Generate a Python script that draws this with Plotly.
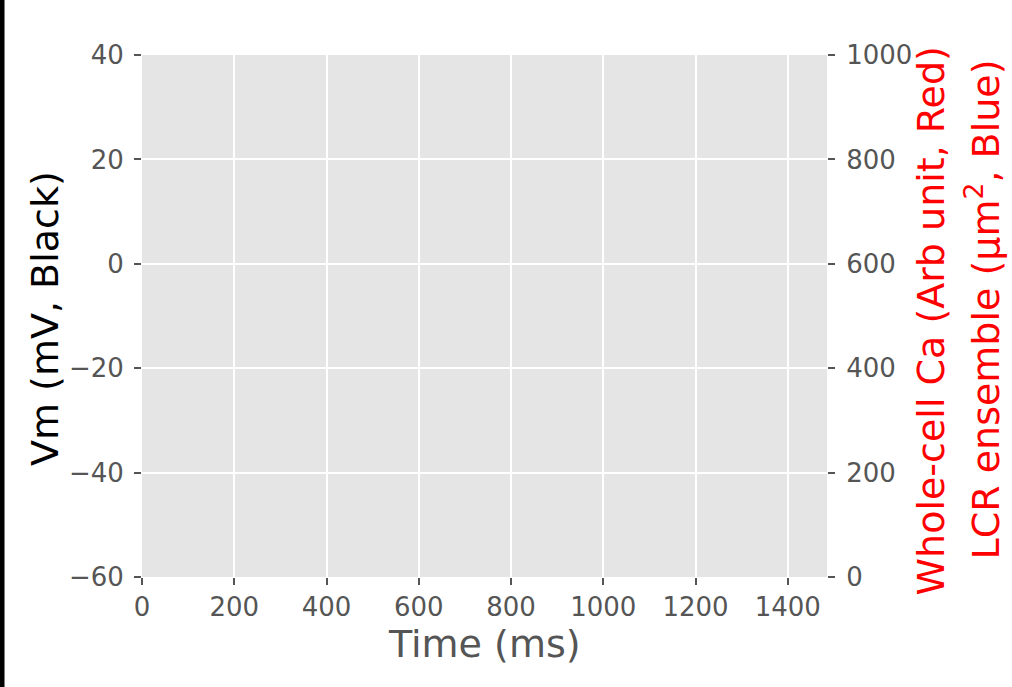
import plotly.graph_objects as go

# Axis limits and ticks
time_range = [0, 1485]
time_ticks = [0, 200, 400, 600, 800, 1000, 1200, 1400]
vm_range = [-60, 40]
vm_ticks = [-60, -40, -20, 0, 20, 40]
ca_range = [0, 1000]
ca_ticks = [0, 200, 400, 600, 800, 1000]

# Recorded traces (none plotted yet)
time_ms = []
vm_mv = []
whole_cell_ca = []
lcr_ensemble = []

W, H = 1012, 687
L, R, T, B = 142, 185, 55, 110
pw, ph = W - L - R, H - T - B


def px(x):
    return (x - L) / pw


def py(y):
    return (H - B - y) / ph


FONT = "DejaVu Sans"
GREY = "#555555"

fig = go.Figure()
fig.add_trace(go.Scatter(x=time_ms, y=vm_mv, mode="lines",
                         line=dict(color="black"), yaxis="y", showlegend=False))
fig.add_trace(go.Scatter(x=time_ms, y=whole_cell_ca, mode="lines",
                         line=dict(color="red"), yaxis="y2", showlegend=False))
fig.add_trace(go.Scatter(x=time_ms, y=lcr_ensemble, mode="lines",
                         line=dict(color="blue"), yaxis="y2", showlegend=False))

tick_common = dict(ticks="outside", ticklen=7, tickwidth=1.5, tickcolor=GREY,
                   tickfont=dict(family=FONT, size=26, color=GREY),
                   zeroline=False, showline=False)

fig.update_layout(
    width=W, height=H,
    margin=dict(l=L, r=R, t=T, b=B, pad=0),
    paper_bgcolor="white",
    plot_bgcolor="#E5E5E5",
    font=dict(family=FONT),
    xaxis=dict(range=time_range, tickvals=time_ticks, ticklabelstandoff=0,
               showgrid=True, gridcolor="white", gridwidth=1.5, **tick_common),
    yaxis=dict(range=vm_range, tickvals=vm_ticks, ticklabelstandoff=5,
               showgrid=True, gridcolor="white", gridwidth=1.5, **tick_common),
    yaxis2=dict(range=ca_range, tickvals=ca_ticks, overlaying="y", side="right",
                ticklabelstandoff=6, showgrid=False, **tick_common),
    shapes=[dict(type="rect", xref="paper", yref="paper",
                 x0=px(0), x1=px(4.5), y0=py(H), y1=py(0),
                 fillcolor="black", line=dict(width=0), layer="above")],
    annotations=[
        dict(text="Time (ms)", xref="paper", yref="paper", x=0.5, y=py(644),
             xanchor="center", yanchor="middle",
             showarrow=False, font=dict(family=FONT, size=38, color=GREY)),
        dict(text="Vm (mV, Black)", xref="paper", yref="paper", x=px(45), y=py(319),
             xanchor="center", yanchor="middle",
             textangle=-90, showarrow=False, font=dict(family=FONT, size=38, color="black")),
        dict(text="Whole-cell Ca (Arb unit, Red)", xref="paper", yref="paper",
             x=px(930), y=py(321.5), xanchor="center", yanchor="middle",
             textangle=-90, showarrow=False,
             font=dict(family=FONT, size=38, color="red")),
        dict(text="LCR ensemble (μm<sup>2</sup>, Blue)", xref="paper", yref="paper",
             x=px(983), y=py(309.5), xanchor="center", yanchor="middle",
             textangle=-90, showarrow=False,
             font=dict(family=FONT, size=38, color="red")),
    ],
)

fig.write_html("out.html")
